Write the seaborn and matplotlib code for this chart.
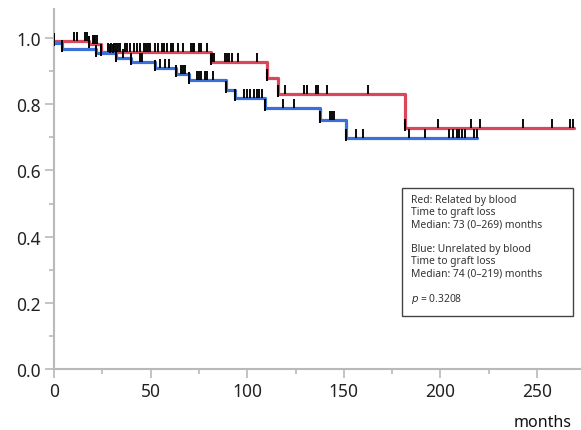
import numpy as np
import seaborn as sns
import matplotlib.pyplot as plt
from matplotlib.patches import Rectangle
from matplotlib.ticker import MultipleLocator

# step curves: time of each drop (months) and survival after it, last entry = end of follow-up
red_times = [0, 18.3, 24.3, 81.1, 110.5, 116.1, 181.7, 269]
red_surv = [0.990, 0.981, 0.957, 0.928, 0.879, 0.831, 0.728, 0.728]
blue_times = [0, 4.1, 21.7, 32.1, 39.9, 52.3, 63.1, 69.8, 89.0, 93.9, 109.2, 137.7, 151.1, 219]
blue_surv = [0.985, 0.967, 0.954, 0.939, 0.928, 0.909, 0.891, 0.872, 0.843, 0.820,
             0.790, 0.752, 0.699, 0.699]

# censored cases (months)
red_censor = [10.5, 12.1, 16.0, 17.2, 20.0, 20.7, 21.2, 22.1,
              28.1, 29.5, 31.1, 32.1, 33.3, 34.2, 36.9, 37.9, 39.3, 41.6, 43.1,
              44.5, 46.6, 47.6, 48.8, 49.7, 52.3, 54.0, 55.7, 56.9, 58.3, 60.6,
              61.7, 64.3, 66.6, 70.9, 71.8, 72.5, 75.2, 76.1, 79.0,
              81.6, 82.8, 88.5, 89.4, 90.6, 92.0, 95.1, 105.2,
              119.6, 129.4, 131.1, 135.6, 136.5, 141.1, 162.7,
              198.9, 215.8, 220.5, 242.9, 257.6, 267.1, 268.5]
blue_censor = [29.0, 30.4, 35.6, 44.5, 45.7, 54.9, 57.5, 59.7, 65.6, 66.6, 67.8,
               74.2, 75.2, 76.1, 78.2, 79.0, 82.5,
               98.5, 100.1, 101.4, 103.7, 105.1, 106.3, 107.5, 118.4, 124.4,
               142.9, 144.1, 144.9,
               156.3, 159.8, 183.7, 192.0, 204.6, 206.7, 208.4, 209.8, 211.3,
               212.7, 217.4, 218.8]

legend_lines = ["Red: Related by blood", "Time to graft loss", "Median: 73 (0\u2013269) months",
                "", "Blue: Unrelated by blood", "Time to graft loss",
                "Median: 74 (0\u2013219) months", "", "$p$ = 0.3208"]

RED = "#d9475a"
BLUE = "#3b70d9"
AXC = "#b9b9b9"

sns.set_style("ticks")
plt.rcParams["font.family"] = ["Noto Sans", "DejaVu Sans"]

fig = plt.figure(figsize=(5.81, 4.31), dpi=100)
ax = fig.add_axes([54 / 581, 61 / 431, 527 / 581, 360 / 431])


def surv_at(times, surv, t):
    i = np.searchsorted(times, t, side="right") - 1
    return np.asarray(surv)[i]


for times, surv, censor, col in [(red_times, red_surv, red_censor, RED),
                                  (blue_times, blue_surv, blue_censor, BLUE)]:
    sns.lineplot(x=times, y=surv, drawstyle="steps-post", color=col, lw=2.3,
                 estimator=None, ax=ax, zorder=2)
    s = surv_at(times, surv, censor)
    ax.vlines(censor, s, s + 0.027, color="black", lw=1.35, zorder=3)
    ev_t = np.array(times[:-1])
    ev_s = np.array(surv[:-1])
    ax.vlines(ev_t, ev_s - 0.01, ev_s + 0.026, color="black", lw=1.4, zorder=3)

ax.set_xlim(0, 527 / 1.932)
ax.set_ylim(0, 360 / 331)
ax.xaxis.set_major_locator(MultipleLocator(50))
ax.xaxis.set_minor_locator(MultipleLocator(25))
ax.yaxis.set_major_locator(MultipleLocator(0.2))
ax.yaxis.set_minor_locator(MultipleLocator(0.1))
ax.yaxis.set_major_formatter(plt.FuncFormatter(lambda v, p: f"{v:.1f}"))

sns.despine(ax=ax)
for sp in ["left", "bottom"]:
    ax.spines[sp].set_color(AXC)
    ax.spines[sp].set_linewidth(1.5)
ax.tick_params(which="major", length=6.5, width=1.2, color=AXC, pad=3,
               labelsize=12.5, labelcolor="#222222")
ax.tick_params(which="minor", length=3.5, width=1.2, color=AXC)

fig.text(542.7 / 581, 1 - 423 / 431, "months", ha="center", va="center",
         fontsize=11.5, color="#111111")

# annotation box
fig.add_artist(Rectangle((402 / 581, 1 - 317 / 431), 171 / 581, 128 / 431,
                         transform=fig.transFigure, fill=False, ec="#444444", lw=1.0))
for k, line in enumerate(legend_lines):
    if line:
        fig.text(411 / 581, 1 - (200.5 + k * 12.3) / 431, line, ha="left", va="center",
                 fontsize=7.4, color="#333333")

fig.savefig("out.png", dpi=100)
